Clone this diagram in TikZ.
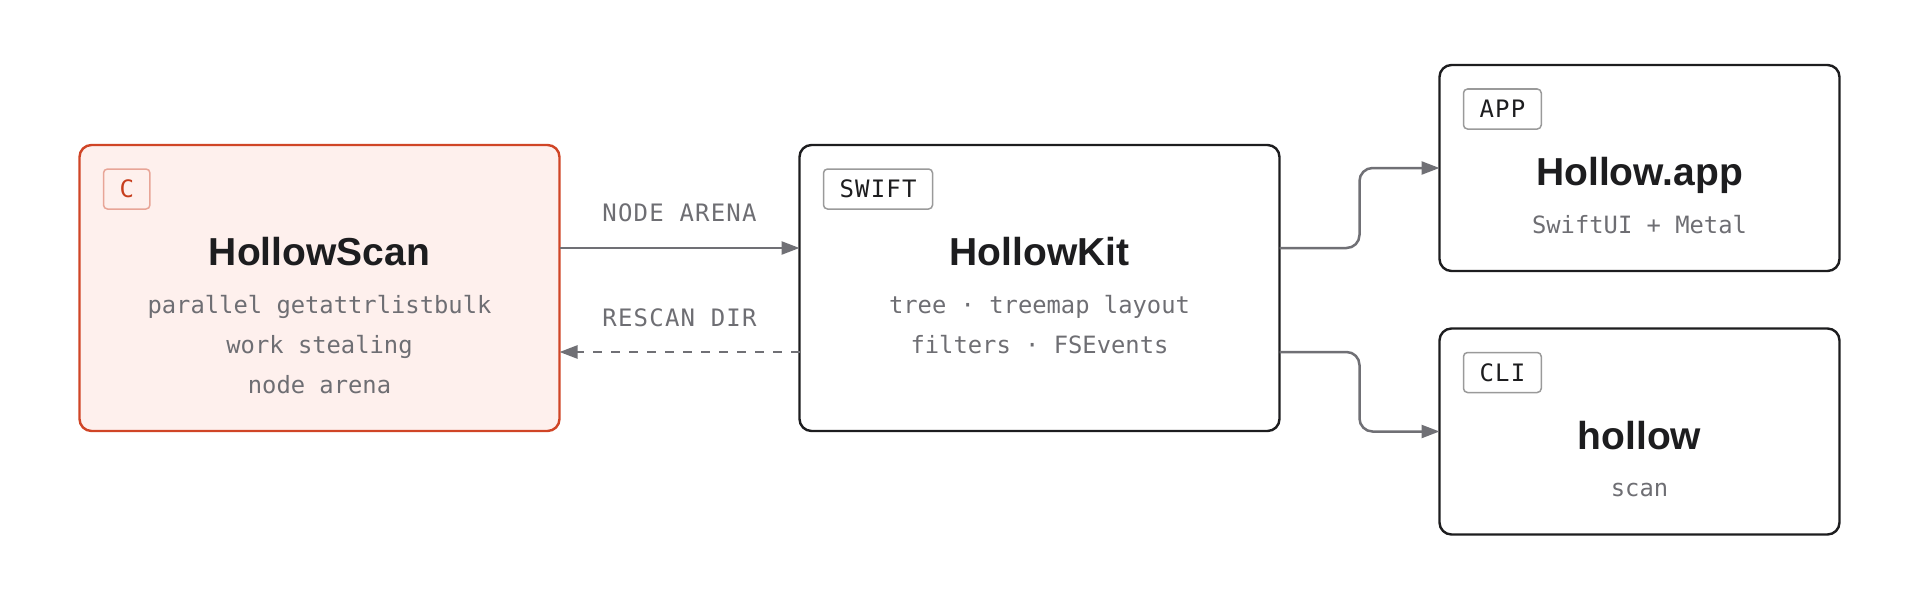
\documentclass[tikz,border=0pt]{standalone}
\usepackage{fontspec}
\setmainfont{Liberation Sans}
\newfontfamily\monofont{DejaVu Sans Mono}
\newfontfamily\tagfont[LetterSpace=5]{DejaVu Sans Mono}
\usetikzlibrary{arrows.meta}
\definecolor{ink}{HTML}{1D1D1F}
\definecolor{muted}{HTML}{6E6E73}
\definecolor{wire}{HTML}{707075}
\definecolor{tagline}{HTML}{9A9A9A}
\definecolor{scanline}{HTML}{D04526}
\definecolor{scanfill}{HTML}{FEF0ED}
\definecolor{ctagline}{HTML}{E8A597}
\definecolor{ctext}{HTML}{C73E1D}

\begin{document}
\begin{tikzpicture}[x=1pt, y=-1pt, >={Triangle[length=18pt, width=13pt]},
    box/.style={draw=ink, line width=2.4pt, rounded corners=12pt, minimum width=480pt,
      minimum height=286pt, inner sep=0pt, outer sep=0pt},
    smallbox/.style={box, minimum width=400pt, minimum height=206pt},
    tag/.style={draw=tagline, line width=1.5pt, rounded corners=4pt, minimum height=40pt,
      inner xsep=16pt, inner ysep=0pt, outer sep=0pt, anchor=north west, text=ink,
      font=\tagfont\fontsize{24}{28}\selectfont},
    title/.style={anchor=base, inner sep=0pt, text=ink, font=\bfseries\fontsize{39}{44}\selectfont},
    sub/.style={anchor=base, inner sep=0pt, text=muted, font=\monofont\fontsize{23.8}{28}\selectfont},
    lbl/.style={inner sep=0pt, text=muted, font=\tagfont\fontsize{24}{28}\selectfont},
    flow/.style={->, draw=wire, line width=2.5pt}]
    \useasboundingbox (0,0) rectangle (1920,602);

    % Boxes
    \node[box, draw=scanline, fill=scanfill] (scan) at (319.5,288) {};
    \node[box] (kit) at (1039.5,288) {};
    \node[smallbox] (app) at (1639.5,168) {};
    \node[smallbox] (cli) at (1639.5,431.5) {};

    % Language tags
    \node[tag, draw=ctagline, text=ctext] (scantag) at ([shift={(24,24)}]scan.north west) {C};
    \node[tag] (kittag) at ([shift={(24,24)}]kit.north west) {SWIFT};
    \node[tag] (apptag) at ([shift={(24,24)}]app.north west) {APP};
    \node[tag] (clitag) at ([shift={(24,24)}]cli.north west) {CLI};

    % Titles
    \node[title] (scantitle) at ([yshift=-120.5pt]scan.north) {HollowScan};
    \node[title] (kittitle) at ([yshift=-120.5pt]kit.north) {HollowKit};
    \node[title] (apptitle) at ([yshift=-120.5pt]app.north) {Hollow.app};
    \node[title] (clititle) at ([yshift=-120.5pt]cli.north) {hollow};

    % Details
    \foreach \txt [count=\i] in {parallel getattrlistbulk, work stealing, node arena}
      \node[sub] (scansub\i) at ([yshift=-128pt-40pt*\i]scan.north) {\txt};
    \foreach \txt [count=\i] in {tree · treemap layout, filters · FSEvents}
      \node[sub] (kitsub\i) at ([yshift=-128pt-40pt*\i]kit.north) {\txt};
    \node[sub] (appsub) at ([yshift=-168pt]app.north) {SwiftUI + Metal};
    \node[sub] (clisub) at ([yshift=-168pt]cli.north) {scan};

    % Connectors
    \draw[flow] ([yshift=40pt]scan.east) -- node[lbl, above=24.5pt] (arenalbl) {NODE ARENA} ([yshift=40pt]kit.west);
    \draw[flow, dash pattern=on 9pt off 9pt] ([yshift=-64pt]kit.west) -- node[lbl, above=23.5pt] (rescanlbl) {RESCAN DIR} ([yshift=-64pt]scan.east);
    \draw[flow, rounded corners=13pt] ([yshift=40pt]kit.east) -- ++(80,0) |- (app.west);
    \draw[flow, rounded corners=13pt] ([yshift=-64pt]kit.east) -- ++(80,0) |- (cli.west);
\end{tikzpicture}
\end{document}
